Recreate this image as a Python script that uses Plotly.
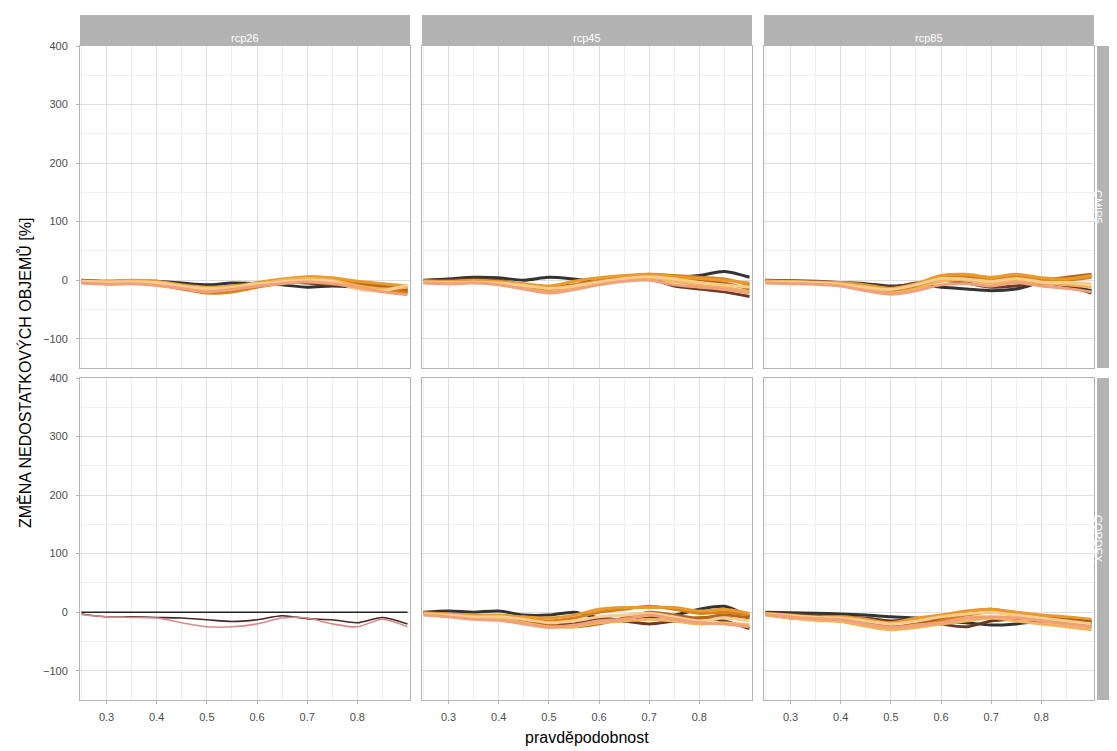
import plotly.graph_objects as go
from plotly.subplots import make_subplots

# pravděpodobnost (x) shared by all series
prob = [0.25, 0.30, 0.35, 0.40, 0.45, 0.50, 0.55, 0.60, 0.65, 0.70, 0.75, 0.80, 0.85, 0.90]

scenarios = ["rcp26", "rcp45", "rcp85"]
ensembles = ["CMIP5", "CORDEX"]

# series per panel (%)
cmip5_rcp26 = [
    [0, -2, -1, -2, -5, -8, -5, -6, -8, -12, -10, -12, -15, -20],
    [-2, -3, -2, -4, -10, -15, -12, -5, -2, -5, -8, -10, -12, -15],
    [-3, -5, -4, -6, -12, -20, -18, -10, -2, 2, 0, -5, -10, -18],
    [-4, -6, -5, -8, -15, -22, -20, -12, -5, 5, 3, -8, -15, -22],
    [-1, -2, 0, -2, -8, -12, -10, -4, 2, 6, 4, -2, -6, -10],
    [-3, -4, -2, -5, -12, -18, -14, -8, 0, 3, 0, -10, -15, -12],
    [-2, -3, -3, -4, -10, -14, -12, -6, -3, 0, -2, -15, -18, -8],
    [-5, -7, -6, -9, -14, -20, -16, -10, -6, -3, -6, -12, -20, -25],
]
cmip5_rcp45 = [
    [0, 2, 5, 4, 0, 5, 2, -3, 0, 5, 5, 8, 15, 5],
    [-2, 0, 2, 0, -8, -12, -8, -2, 2, 3, -10, -15, -20, -28],
    [-3, -4, -2, -5, -12, -18, -10, -2, 5, 8, 5, 0, -5, -15],
    [-2, -3, -1, -3, -10, -15, -8, 0, 6, 10, 8, 5, 2, -8],
    [-1, -2, 0, -2, -6, -10, -2, 4, 8, 10, 6, 3, 0, -5],
    [-4, -5, -3, -6, -14, -20, -14, -6, 0, 4, -2, -8, -12, -20],
    [-3, -4, -4, -5, -9, -14, -10, -3, 3, 6, 2, -4, -8, -12],
    [-5, -6, -5, -8, -15, -22, -16, -8, -2, 0, -8, -12, -16, -22],
]
cmip5_rcp85 = [
    [0, -1, -2, -4, -6, -10, -8, -12, -15, -18, -15, -5, -8, -18],
    [-1, -2, -3, -5, -8, -12, -5, 0, -5, -12, -10, -5, -10, -22],
    [-2, -3, -4, -6, -12, -18, -10, 2, 5, 2, 5, 0, 5, 10],
    [-3, -4, -5, -8, -14, -20, -12, 5, 8, 3, 8, 2, 0, 5],
    [-1, -2, -3, -4, -8, -14, -6, 8, 10, 5, 10, 4, 2, 8],
    [-4, -5, -6, -9, -16, -22, -15, -2, 0, -5, 0, -5, -8, -12],
    [-3, -3, -4, -7, -12, -16, -8, 3, 2, -2, 3, -3, -4, -6],
    [-5, -6, -7, -10, -18, -24, -18, -8, -6, -10, -4, -10, -14, -20],
]
cordex_rcp26 = [
    [-3, -8, -8, -9, -10, -13, -16, -13, -6, -11, -13, -18, -9, -20],
    [-4, -8, -9, -10, -18, -25, -25, -20, -10, -10, -20, -25, -12, -25],
    [0, 0, 0, 0, 0, 0, 0, 0, 0, 0, 0, 0, 0, 0],
]
cordex_rcp45 = [
    [0, 2, 0, 2, -5, -5, 0, -10, -15, -10, -5, 5, 10, -8],
    [-2, -5, -8, -8, -12, -18, -20, -10, -15, -20, -15, -10, -15, -28],
    [-3, -6, -10, -10, -15, -22, -25, -20, -10, 0, -5, -10, -5, -10],
    [-2, -4, -6, -6, -10, -15, -10, 0, 5, 10, 5, -2, 0, -5],
    [-1, -3, -5, -5, -8, -10, -5, 5, 8, 8, 8, 2, 5, -2],
    [-4, -7, -10, -12, -18, -25, -25, -18, -15, -12, -15, -20, -18, -22],
    [-3, -5, -8, -8, -12, -18, -15, -8, -5, -2, -8, -15, -10, -15],
    [-5, -8, -12, -14, -20, -26, -22, -15, -12, -5, -12, -18, -20, -25],
]
cordex_rcp85 = [
    [0, -1, -2, -3, -5, -8, -10, -15, -18, -22, -20, -15, -10, -15],
    [-2, -4, -6, -8, -10, -15, -12, -20, -25, -15, -12, -10, -15, -20],
    [-3, -8, -10, -12, -18, -25, -20, -10, 0, 5, -2, -8, -12, -18],
    [-4, -10, -12, -15, -22, -28, -25, -15, -5, 0, -5, -12, -18, -25],
    [-2, -5, -8, -8, -12, -18, -10, -5, 2, 5, 0, -5, -8, -12],
    [-5, -10, -14, -16, -24, -30, -26, -20, -15, -10, -15, -20, -25, -30],
    [-3, -6, -9, -10, -15, -20, -15, -8, -3, 0, -5, -10, -15, -20],
    [-4, -8, -11, -13, -20, -26, -22, -18, -10, -8, -10, -15, -20, -25],
]

palette = ["#333333", "#6b3a26", "#b5651d", "#d97f1a", "#e89a2c", "#f2b35a", "#f7cc8f", "#f0a07a"]
cordex26_colors = ["#4a2626", "#d88a8a", "#222222"]

panels = {
    (1, 1): cmip5_rcp26, (1, 2): cmip5_rcp45, (1, 3): cmip5_rcp85,
    (2, 1): cordex_rcp26, (2, 2): cordex_rcp45, (2, 3): cordex_rcp85,
}

# the page body has an 8px margin, so the figure is 8px smaller than the window
W, H = 1109, 743
fig = make_subplots(rows=2, cols=3, horizontal_spacing=12 / 1014, vertical_spacing=10 / 654)

for (r, c), series in panels.items():
    few = (r, c) == (2, 1)
    cols = cordex26_colors if few else palette
    for i, ys in enumerate(series):
        fig.add_trace(go.Scatter(x=prob, y=ys, mode="lines",
                                 line=dict(color=cols[i], width=1.6 if few else 3,
                                           shape="spline", smoothing=0.8),
                                 showlegend=False, hoverinfo="skip"), row=r, col=c)

font = "Liberation Sans, Arial, sans-serif"
fig.update_xaxes(range=[0.247, 0.905], tickvals=[0.3, 0.4, 0.5, 0.6, 0.7, 0.8],
                 ticktext=["0.3", "0.4", "0.5", "0.6", "0.7", "0.8"],
                 showgrid=True, gridcolor="#DEDEDE", gridwidth=1, zeroline=False,
                 minor=dict(tickvals=[0.25, 0.35, 0.45, 0.55, 0.65, 0.75, 0.85],
                            showgrid=True, gridcolor="#EFEFEF", gridwidth=0.6, ticks=""),
                 showline=True, mirror=True, linecolor="#B3B3B3", linewidth=1,
                 ticklabelstandoff=4,
                 tickfont=dict(size=11, color="#4D4D4D", family=font))
fig.update_yaxes(range=[-150, 400], tickvals=[-100, 0, 100, 200, 300, 400],
                 showgrid=True, gridcolor="#DEDEDE", gridwidth=1, zeroline=False,
                 minor=dict(tickvals=[-150, -50, 50, 150, 250, 350],
                            showgrid=True, gridcolor="#EFEFEF", gridwidth=0.6, ticks=""),
                 showline=True, mirror=True, linecolor="#B3B3B3", linewidth=1,
                 ticklabelstandoff=6,
                 tickfont=dict(size=11, color="#4D4D4D", family=font))
for r in (1, 2):
    for c in (1, 2, 3):
        fig.update_xaxes(showticklabels=(r == 2), ticks="outside" if r == 2 else "",
                         ticklen=3, tickcolor="#B3B3B3", row=r, col=c)
        fig.update_yaxes(showticklabels=(c == 1), ticks="outside" if c == 1 else "",
                         ticklen=3, tickcolor="#B3B3B3", row=r, col=c)

shapes = []
annotations = []
# strips on top (scenario)
for c, name in enumerate(scenarios, start=1):
    xa = "x" if c == 1 else f"x{c}"
    ya = "y" if c == 1 else f"y{c}"
    shapes.append(dict(type="rect", xref=f"{xa} domain", yref=f"{ya} domain",
                       x0=0, x1=1, y0=1.003, y1=1 + 31 / 322, fillcolor="#B3B3B3",
                       line=dict(width=0), layer="above"))
    annotations.append(dict(text=name, xref=f"{xa} domain", yref=f"{ya} domain",
                            x=0.5, y=1 + 16 / 322, showarrow=False,
                            font=dict(size=11, color="white", family=font)))
# strips on the right (ensemble)
for r, name in enumerate(ensembles, start=1):
    idx = 3 if r == 1 else 6
    shapes.append(dict(type="rect", xref=f"x{idx} domain", yref=f"y{idx} domain",
                       x0=1 + 3 / 330, x1=1 + 40 / 330, y0=0, y1=1, fillcolor="#B3B3B3",
                       line=dict(width=0), layer="above"))
    annotations.append(dict(text=name, xref=f"x{idx} domain", yref=f"y{idx} domain",
                            x=1 + 12 / 330, y=0.5, showarrow=False, textangle=90,
                            font=dict(size=11, color="white", family=font)))

annotations.append(dict(text="pravděpodobnost", xref="paper", yref="paper",
                        x=0.5, y=-0.042, yanchor="top", showarrow=False,
                        font=dict(size=16, color="black", family=font)))
annotations.append(dict(text="ZMĚNA NEDOSTATKOVÝCH OBJEMŮ [%]", xref="paper", yref="paper",
                        x=-0.065, y=0.5, textangle=-90, showarrow=False,
                        font=dict(size=16, color="black", family=font)))

fig.update_layout(width=W, height=H,
                  margin=dict(l=72, r=23, t=38, b=51),
                  plot_bgcolor="white", paper_bgcolor="white",
                  shapes=shapes,
                  annotations=annotations,
                  font=dict(family=font))

fig.write_html("out.html")
